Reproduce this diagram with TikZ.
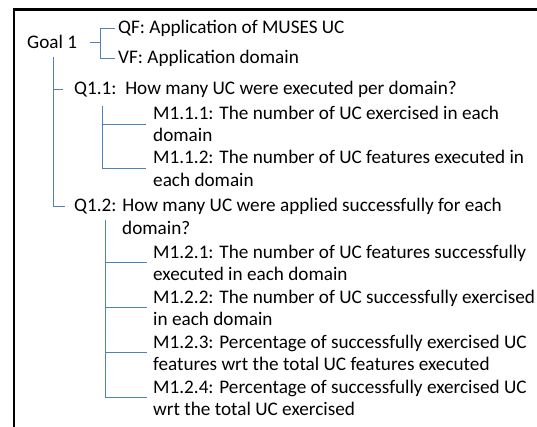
\documentclass[tikz,border=0pt]{standalone}
\usepackage{fontspec}
\setmainfont{Carlito}
\usetikzlibrary{positioning,calc}
\definecolor{linkblue}{RGB}{79,129,189}

\begin{document}
\begin{tikzpicture}[x=1pt, y=-1pt,
		txt/.style={anchor=base west, align=left, inner sep=0pt, font=\fontsize{19.2}{22.5}\selectfont},
		link/.style={draw=linkblue, line width=0.8pt}]
		\useasboundingbox (0,0) rectangle (537,427);
		\draw[line width=2.7pt] (14,427) -- (14,9.5) -- (537,9.5);
		
		\node[txt] (goal) at (27,49) {Goal 1};
		\node[txt] (qf) at (118,34) {QF: Application of MUSES UC};
		\node[txt] (vf) at (118,64) {VF: Application domain};
		
		\node[txt] (q11) at (74,95) {Q1.1:\ \ How many UC were executed per domain?};
		\node[txt] (m111) at (153,142) {M1.1.1: The number of UC exercised in each\\domain};
		\node[txt] (m112) at (153,186.5) {M1.1.2: The number of UC features executed in\\each domain};
		
		\node[txt] (q12) at (74,234.5) {Q1.2: How many UC were applied successfully for each\\\hspace*{48pt}domain?};
		\node[txt] (m121) at (153,280.5) {M1.2.1: The number of UC features successfully\\executed\ in each domain};
		\node[txt] (m122) at (153,325.5) {M1.2.2: The number of UC successfully exercised\\in each domain};
		\node[txt] (m123) at (153,370.5) {M1.2.3: Percentage of successfully exercised UC\\features wrt the total UC features executed};
		\node[txt] (m124) at (153,415.5) {M1.2.4: Percentage of successfully exercised UC\\wrt the total UC exercised};
		
		% goal to factors
		\draw[link] ([xshift=13pt]goal.east) -| ([xshift=-18pt]qf.west) -- ([xshift=-3pt]qf.west);
		\draw[link] ([xshift=13pt]goal.east) -| ([xshift=-18pt]vf.west) -- ([xshift=-3pt]vf.west);
		
		% goal to questions
		\draw[link] ([shift={(26,8)}]goal.base west) |- ([shift={(-11,-6)}]q11.base west);
		\draw[link] ([shift={(26,8)}]goal.base west) |- ([shift={(-9,-28.5)}]q12.base west);
		
		% questions to metrics
		\foreach \m in {m111,m112}
			\draw[link] ([shift={(28,11)}]q11.base west) |- ([xshift=-7pt]\m.west);
		\foreach \m in {m121,m122,m123,m124}
			\draw[link] ([shift={(31,-14.5)}]q12.base west) |- ([xshift=-6pt]\m.west);
	\end{tikzpicture}
\end{document}
